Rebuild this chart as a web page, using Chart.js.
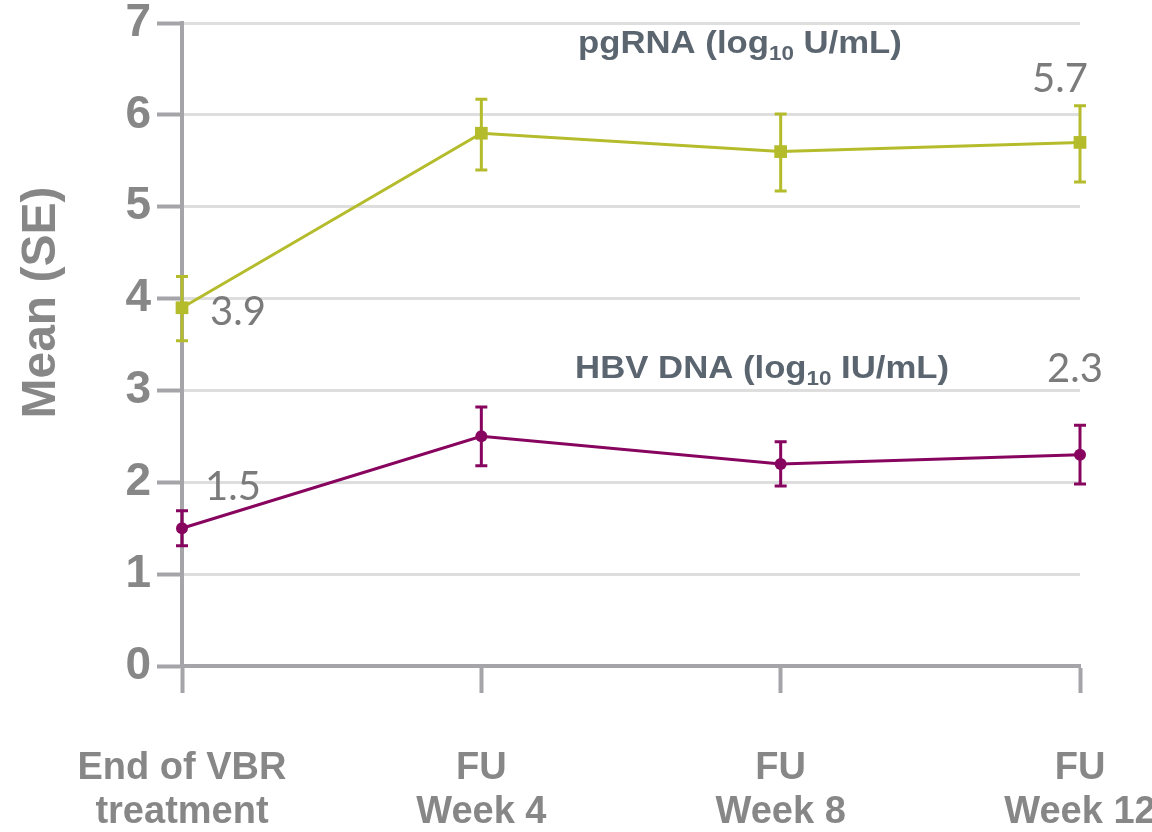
<!DOCTYPE html>
<html>
<head>
<meta charset="utf-8">
<script src="https://cdn.jsdelivr.net/npm/chart.js@4/dist/chart.umd.min.js"></script>
<style>
  html, body { margin: 0; padding: 0; background: #fff; }
  #wrap { width: 1152px; height: 832px; position: relative; }
</style>
</head>
<body>
<div id="wrap"><canvas id="meanChart"></canvas></div>
<script>
// visits along the x axis
var visits = [['End of VBR', 'treatment'], ['FU', 'Week 4'], ['FU', 'Week 8'], ['FU', 'Week 12']];

// mean values (log10) and the SE range around them
var pgRnaMean = [3.9, 5.8, 5.6, 5.7];
var pgRnaLow  = [3.54, 5.40, 5.17, 5.27];
var pgRnaHigh = [4.24, 6.17, 6.01, 6.10];

var hbvMean = [1.5, 2.5, 2.2, 2.3];
var hbvLow  = [1.31, 2.18, 1.96, 1.98];
var hbvHigh = [1.69, 2.82, 2.44, 2.62];

var yTicks = [0, 1, 2, 3, 4, 5, 6, 7];

var olive = '#b4bc2c';
var plum = '#87055f';
var axisGrey = '#a5a5a9';
var textGrey = '#878787';

// vertical SE bars with small caps
var errorBars = {
    id: 'errorBars',
    afterDatasetsDraw: function(chart) {
        var ctx = chart.ctx;
        var x = chart.scales.x, y = chart.scales.y;
        var sets = [[pgRnaLow, pgRnaHigh, olive], [hbvLow, hbvHigh, plum]];
        ctx.save();
        sets.forEach(function(s) {
            ctx.strokeStyle = s[2];
            ctx.lineWidth = 3;
            for (var i = 0; i < s[0].length; i++) {
                var px = x.getPixelForValue(i);
                var lo = y.getPixelForValue(s[0][i]);
                var hi = y.getPixelForValue(s[1][i]);
                ctx.beginPath();
                ctx.moveTo(px, lo); ctx.lineTo(px, hi);
                ctx.moveTo(px - 6, lo); ctx.lineTo(px + 6, lo);
                ctx.moveTo(px - 6, hi); ctx.lineTo(px + 6, hi);
                ctx.stroke();
            }
        });
        ctx.restore();
    }
};

// value labels next to the first and last points
var valueLabels = {
    id: 'valueLabels',
    afterDatasetsDraw: function(chart, args, opts) {
        var ctx = chart.ctx;
        ctx.save();
        ctx.font = '40px Lato, "Open Sans", sans-serif';
        ctx.fillStyle = '#7b7b7b';
        ctx.textBaseline = 'alphabetic';
        ctx.textAlign = 'left';
        opts.spots.forEach(function(sp) {
            var pt = chart.getDatasetMeta(sp.ds).data[sp.i];
            var v = chart.data.datasets[sp.ds].data[sp.i];
            ctx.fillText(v.toFixed(1), pt.x + sp.dx, pt.y + sp.dy);
        });
        ctx.restore();
    }
};

// series names with the log10 subscript, plus the rotated y title
var seriesNames = {
    id: 'seriesNames',
    afterDraw: function(chart, args, opts) {
        var ctx = chart.ctx;
        var x = chart.scales.x, y = chart.scales.y;
        ctx.save();
        ctx.fillStyle = '#5b6570';
        ctx.textBaseline = 'alphabetic';
        ctx.textAlign = 'left';
        opts.names.forEach(function(n) {
            var big = 'bold 31px "Liberation Sans", Arial, sans-serif';
            var small = 'bold 20px "Liberation Sans", Arial, sans-serif';
            ctx.font = big;
            var w1 = ctx.measureText(n.before).width;
            var w3 = ctx.measureText(n.after).width;
            ctx.font = small;
            var w2 = ctx.measureText('10').width;
            var sx = 1.12;
            var total = (w1 + w2 + w3) * sx;
            var cx = x.getPixelForValue(n.x);
            var by = y.getPixelForValue(n.y);
            ctx.save();
            ctx.translate(cx - total / 2, by);
            ctx.scale(sx, 1);
            ctx.font = big;
            ctx.fillText(n.before, 0, 0);
            ctx.font = small;
            ctx.fillText('10', w1, 7);
            ctx.font = big;
            ctx.fillText(n.after, w1 + w2, 0);
            ctx.restore();
        });

        ctx.save();
        ctx.translate(42, (chart.chartArea.top + chart.chartArea.bottom) / 2 - 42);
        ctx.rotate(-Math.PI / 2);
        ctx.font = 'bold 48px "Liberation Sans", Arial, sans-serif';
        ctx.fillStyle = textGrey;
        ctx.textAlign = 'center';
        ctx.textBaseline = 'middle';
        ctx.fillText('Mean (SE)', 0, 0);
        ctx.restore();
        ctx.restore();
    }
};

new Chart(document.getElementById('meanChart'), {
    type: 'line',
    data: {
        labels: visits,
        datasets: [
            {
                label: 'pgRNA',
                data: pgRnaMean,
                borderColor: olive,
                backgroundColor: olive,
                borderWidth: 3,
                pointStyle: 'rect',
                pointRadius: 9,
                pointBorderWidth: 0,
                tension: 0,
                clip: false
            },
            {
                label: 'HBV DNA',
                data: hbvMean,
                borderColor: plum,
                backgroundColor: plum,
                borderWidth: 3,
                pointStyle: 'circle',
                pointRadius: 6,
                pointBorderWidth: 0,
                tension: 0,
                clip: false
            }
        ]
    },
    options: {
        responsive: true,
        maintainAspectRatio: false,
        animation: false,
        layout: { padding: { top: 23, right: 72, left: 0, bottom: 0 } },
        plugins: {
            legend: { display: false },
            tooltip: { enabled: false },
            valueLabels: {
                spots: [
                    { ds: 0, i: 0, dx: 28, dy: 17 },
                    { ds: 0, i: 3, dx: -48, dy: -50 },
                    { ds: 1, i: 0, dx: 23, dy: -28 },
                    { ds: 1, i: 3, dx: -33, dy: -73 }
                ]
            },
            seriesNames: {
                names: [
                    { before: 'pgRNA (log', after: ' U/mL)', x: 1.864, y: 6.67 },
                    { before: 'HBV DNA (log', after: ' IU/mL)', x: 1.938, y: 3.135 }
                ]
            }
        },
        scales: {
            x: {
                type: 'category',
                offset: false,
                afterFit: function(scale) {
                    scale.height = 166;
                    scale.paddingLeft = 0;
                    scale.paddingRight = 0;
                },
                grid: {
                    drawOnChartArea: false,
                    drawTicks: true,
                    tickLength: 27,
                    tickColor: axisGrey,
                    tickWidth: 4
                },
                border: { display: true, color: axisGrey, width: 4 },
                ticks: {
                    autoSkip: false,
                    maxRotation: 0,
                    padding: 54,
                    color: textGrey,
                    font: { family: '"Liberation Sans", Arial, sans-serif', size: 38, weight: 'bold', lineHeight: '44px' }
                }
            },
            y: {
                min: yTicks[0],
                max: yTicks[yTicks.length - 1],
                afterFit: function(scale) {
                    scale.width = 182;
                    scale.paddingTop = 0;
                    scale.paddingBottom = 0;
                },
                afterBuildTicks: function(scale) {
                    scale.ticks = yTicks.map(function(v) { return { value: v }; });
                },
                grid: {
                    color: '#dedede',
                    lineWidth: 3,
                    tickLength: 25,
                    tickColor: axisGrey,
                    tickWidth: 4
                },
                border: { display: true, color: axisGrey, width: 4 },
                ticks: {
                    padding: 6,
                    color: textGrey,
                    font: { family: '"Liberation Sans", Arial, sans-serif', size: 46, weight: 'bold' }
                }
            }
        }
    },
    plugins: [errorBars, valueLabels, seriesNames]
});
</script>
</body>
</html>
